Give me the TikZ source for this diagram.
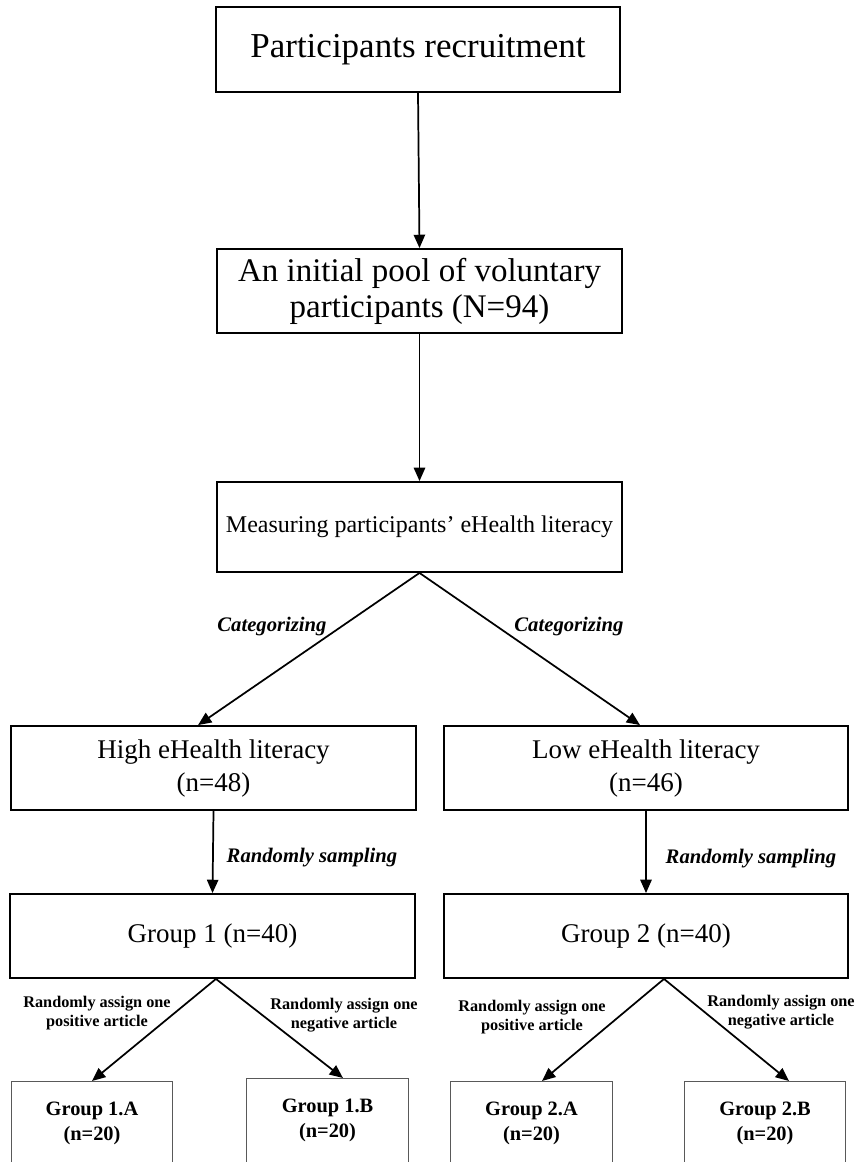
\documentclass[tikz,border=0pt]{standalone}
\usepackage{fontspec}
\setmainfont{Liberation Serif}
\usetikzlibrary{arrows.meta,positioning}

\begin{document}
\begin{tikzpicture}[
    x=0.75pt, y=-0.75pt,
    box/.style={
      draw=black, line width=1.4pt, align=center,
      minimum width=303.5pt, minimum height=63pt, inner sep=2pt
    },
    subbox/.style={
      draw=black!65, line width=0.8pt, align=center, anchor=north,
      minimum width=121pt, minimum height=63pt,
      font=\bfseries\fontsize{15.3pt}{18.75pt}\selectfont
    },
    arr/.style={-{Triangle[length=10pt,width=8.5pt]}, line width=1.3pt},
    tag/.style={font=\bfseries\itshape\fontsize{15.5pt}{18pt}\selectfont},
    note/.style={align=center, font=\bfseries\fontsize{12.2pt}{14.25pt}\selectfont}
  ]
    \useasboundingbox (0,0) rectangle (857,1162);
    \clip (0,0) rectangle (857,1162);

    % main column
    \node[box, minimum height=63.75pt, font=\fontsize{26.25pt}{29pt}\selectfont]
      (recruit) at (418,49.5) {Participants recruitment};
    \node[box, font=\fontsize{24.75pt}{27pt}\selectfont]
      (pool) at (419.5,291) {An initial pool of voluntary\\participants (N=94)};
    \node[box, minimum height=67.5pt, font=\fontsize{18pt}{21pt}\selectfont]
      (measure) at (419.5,527) {Measuring participants’ eHealth literacy};

    % literacy groups
    \node[box, font=\fontsize{20.25pt}{24.75pt}\selectfont]
      (high) at (213.5,768) {High eHealth literacy\\(n=48)};
    \node[box, font=\fontsize{20.25pt}{24.75pt}\selectfont]
      (low) at (646,768) {Low eHealth literacy\\(n=46)};
    \node[box, font=\fontsize{20.25pt}{24pt}\selectfont]
      (grpone) at (212.5,936) {Group 1 (n=40)};
    \node[box, font=\fontsize{20.25pt}{24pt}\selectfont]
      (grptwo) at (646,936) {Group 2 (n=40)};

    % article groups
    \node[subbox] (grpA) at (92,1081) {Group 1.A\\(n=20)};
    \node[subbox] (grpB) at (327.5,1078) {Group 1.B\\(n=20)};
    \node[subbox] (grpC) at (531.5,1081) {Group 2.A\\(n=20)};
    \node[subbox] (grpD) at (765,1081) {Group 2.B\\(n=20)};

    \coordinate (splitone) at ([xshift=2.6pt]grpone.south);
    \coordinate (splittwo) at ([xshift=13.5pt]grptwo.south);

    \draw[arr] (recruit.south) -- (pool.north);
    \draw[arr] (pool.south) -- (measure.north);
    \draw[arr] (measure.south) -- ([xshift=-11.6pt]high.north);
    \draw[arr] (measure.south) -- ([xshift=-4.5pt]low.north);
    \draw[arr] (high.south) -- (grpone.north);
    \draw[arr] (low.south) -- (grptwo.north);
    \draw[arr] (splitone) -- (grpA.north);
    \draw[arr] (splitone) -- ([xshift=11.6pt]grpB.north);
    \draw[arr] (splittwo) -- ([xshift=7.9pt]grpC.north);
    \draw[arr] (splittwo) -- ([xshift=18pt]grpD.north);

    % labels
    \node[tag] (catL) at (272,627) {Categorizing};
    \node[tag] (catR) at (569,627) {Categorizing};
    \node[tag] (sampL) at (312,858) {Randomly sampling};
    \node[tag] (sampR) at (751,859) {Randomly sampling};
    \node[note] (posL) at (97,1013) {Randomly assign one\\positive article};
    \node[note] (negL) at (344,1015) {Randomly assign one\\negative article};
    \node[note] (posR) at (532,1017) {Randomly assign one\\positive article};
    \node[note] (negR) at (781,1012) {Randomly assign one\\negative article};
  \end{tikzpicture}
\end{document}
